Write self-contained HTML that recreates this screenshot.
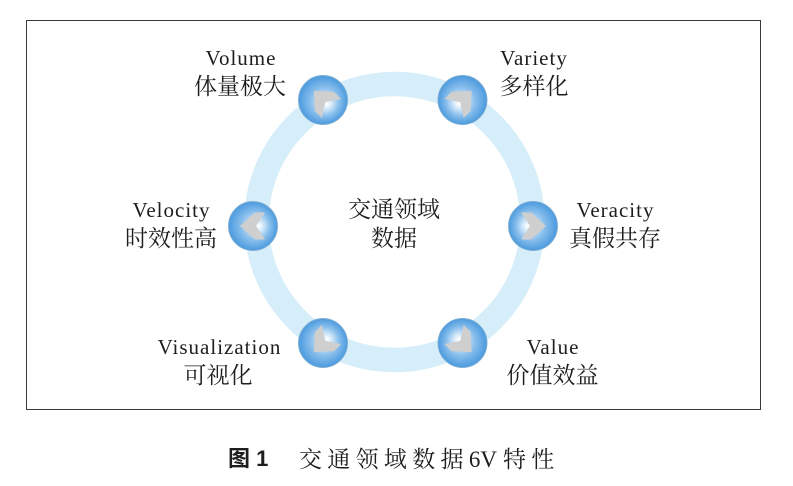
<!DOCTYPE html>
<html>
<head>
<meta charset="utf-8">
<style>
  html,body{margin:0;padding:0;background:#fff;}
  body{width:793px;height:486px;overflow:hidden;}
  svg{display:block;}
  .lat{font-family:"Liberation Serif","Noto Serif CJK SC",serif;font-size:21px;letter-spacing:1px;fill:#1e1e1e;}
  .cjk{font-family:"Liberation Serif","Noto Serif CJK SC",serif;font-size:23px;fill:#1e1e1e;}
  .cap{font-family:"Liberation Serif","Noto Serif CJK SC",serif;font-size:23px;fill:#1e1e1e;}
  .capb{font-family:"Liberation Sans","Noto Sans CJK SC",sans-serif;font-size:22px;font-weight:bold;fill:#1e1e1e;}
</style>
</head>
<body>
<svg width="793" height="486" viewBox="0 0 793 486" xmlns="http://www.w3.org/2000/svg">
  <defs>
    <radialGradient id="ball" cx="0.5" cy="0.5" r="0.5" fx="0.38" fy="0.5">
      <stop offset="0" stop-color="#ffffff"/>
      <stop offset="0.25" stop-color="#cfe6f8"/>
      <stop offset="0.6" stop-color="#86bdec"/>
      <stop offset="1" stop-color="#4b9ade"/>
    </radialGradient>
    <g id="node">
      <circle cx="0" cy="0" r="24.5" fill="url(#ball)" stroke="#7eaed3" stroke-width="0.9"/>
      <polygon points="13,0 -2,-13.5 -12,-13.5 -3,0 -12,13.5 -2,13.5" fill="#cfcfcf"/>
    </g>
  </defs>

  <rect x="26.5" y="20.5" width="734" height="389" fill="#fff" stroke="#3a3a3a" stroke-width="1"/>

  <circle cx="394.5" cy="222" r="138" fill="none" stroke="#d6eef9" stroke-width="24.5"/>

  <use href="#node" transform="translate(323,100) rotate(-135)"/>
  <use href="#node" transform="translate(462.5,100) rotate(-45)"/>
  <use href="#node" transform="translate(253,226) rotate(180)"/>
  <use href="#node" transform="translate(533,226) rotate(0)"/>
  <use href="#node" transform="translate(323,343) rotate(135)"/>
  <use href="#node" transform="translate(462.5,343) rotate(45)"/>

  <text class="lat" x="241" y="65" text-anchor="middle">Volume</text>
  <text class="cjk" x="240" y="94" text-anchor="middle">体量极大</text>

  <text class="lat" x="534" y="65" text-anchor="middle">Variety</text>
  <text class="cjk" x="534" y="94" text-anchor="middle">多样化</text>

  <text class="lat" x="171.5" y="217" text-anchor="middle">Velocity</text>
  <text class="cjk" x="171" y="246" text-anchor="middle">时效性高</text>

  <text class="lat" x="615.5" y="217" text-anchor="middle">Veracity</text>
  <text class="cjk" x="615" y="246" text-anchor="middle">真假共存</text>

  <text class="lat" x="219.5" y="354" text-anchor="middle">Visualization</text>
  <text class="cjk" x="218" y="383" text-anchor="middle">可视化</text>

  <text class="lat" x="553" y="354" text-anchor="middle">Value</text>
  <text class="cjk" x="552.5" y="383" text-anchor="middle">价值效益</text>

  <text class="cjk" x="394" y="217" text-anchor="middle">交通领域</text>
  <text class="cjk" x="394" y="246" text-anchor="middle">数据</text>

  <text class="capb" x="228" y="466">图 1</text>
  <text class="cap" x="299" y="467"><tspan letter-spacing="5.3">交通领域数据</tspan><tspan>6V</tspan><tspan dx="6" letter-spacing="5.3">特性</tspan></text>
</svg>
</body>
</html>
